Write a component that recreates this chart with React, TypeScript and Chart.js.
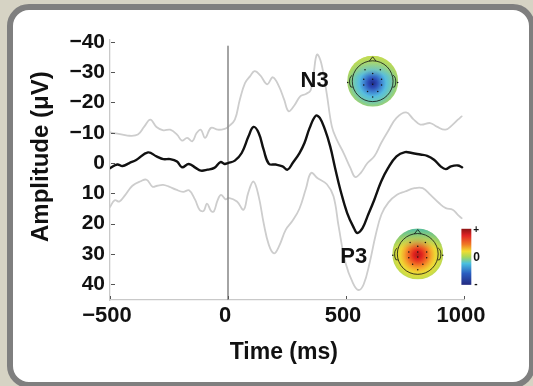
import React, { useEffect, useRef } from 'react';
import { Chart, registerables } from 'chart.js';

Chart.register(...registerables);

// ---- data (time in ms, amplitude in µV) ----
const meanTime = [-500,-469,-447,-418,-389,-339,-303,-274,-245,-216,-195,-166,-137,-115,-87,-58,-32,-14,0,29,58,87,108,130,151,173,202,231,252,274,303,324,346,372,389,411,433,454,476,505,534,548,570,591,620,649,678,714,750,779,815,844,873,901,923,945,974,992];
const meanAmp = [1.7,0.5,1,0,-1,-3.5,-2.2,-1.3,-1.3,-0.5,1.4,0.3,1.6,2.5,2.2,1.6,-0.3,0.3,0,-0.8,-3.3,-8.8,-11.9,-9.9,-4.4,0.2,0.5,1.1,2.2,0,-3.3,-6.6,-11.6,-15.6,-14.9,-11,-5.5,1.7,8.8,16.5,21.5,23.1,21.5,17.6,12.1,6.1,1.7,-2.2,-3.6,-3.3,-2.8,-2.4,-1.1,1.1,2,1.1,0.8,1.4];

const upperTime = [-500,-469,-447,-418,-382,-355,-329,-303,-274,-245,-216,-195,-173,-151,-133,-115,-97,-72,-43,-14,3,29,50,72,94,113,137,166,190,216,238,257,281,306,330,350,362,377,395,418,440,461,490,519,539,562,591,620,649,678,714,755,785,815,857,885,921,950,974,990];
const upperAmp = [-10.1,-9.7,-9.4,-9,-9.4,-12,-14.3,-11.9,-10.8,-11,-9.4,-7.4,-8.3,-7.2,-9.9,-11,-8.3,-11.6,-11,-11.3,-12.1,-14.3,-20.9,-26.4,-28.7,-30.3,-28.9,-26,-28.3,-25.3,-20.9,-17.1,-19,-22,-22.8,-24,-29,-35.8,-33,-23.1,-12.1,-7.7,-3.3,1.7,4.6,3.3,0,-2.2,-6.6,-10.5,-14.9,-16.7,-14.5,-12.7,-13.2,-12,-11,-12.5,-14.3,-15.4];

const lowerTime = [-500,-480,-460,-435,-405,-370,-345,-320,-300,-275,-250,-220,-190,-165,-140,-120,-103,-89,-72,-60,-45,-30,-10,3,38,66,85,108,130,151,173,195,216,245,274,303,330,352,380,419,447,469,498,530,553,575,600,625,650,680,716,750,790,825,858,894,923,952,974,990];
const lowerAmp = [14.5,12.3,12.7,10.5,7.5,6,5.5,7.8,7.5,7.2,7.8,8.8,9.5,9,12,15.5,15.8,13.4,15.8,16,12.5,10.5,12,11.5,12.7,15.4,10,6.1,11,19.8,27,29.8,27.5,22,19,15,8.5,3.3,5,7,11,21,33,39.7,41.9,40,33,24,17,13,10.5,9.4,8.3,8.3,10.5,13.2,14.9,15.4,17.1,18.2];

const onsetTime = [0, 0];
const onsetAmp = [-38.5, 45.2];

const xTicks = [-500, 0, 500, 1000];
const yTicks = [-40, -30, -20, -10, 0, 10, 20, 30, 40];

const peakLabels = ['N3', 'P3'];
const colorbarLabels = ['+', '0', '-'];

// ---- annotation placement (data units) ----
const PLACE = {
  n3Label: { x: 367, y: -27 },
  p3Label: { x: 533, y: 31 },
  n3Map: { x: 613, y: -27 },
  p3Map: { x: 804, y: 30 },
  colorbar: { x0: 989, x1: 1031, y0: 21.7, y1: 40.2 },
};

const FONT = "'Liberation Sans', Arial, Helvetica, sans-serif";

const pts = (xs: number[], ys: number[]) => xs.map((x, i) => ({ x, y: ys[i] }));
const fmt = (v: number) => (v < 0 ? '\u2212' + Math.abs(v) : String(v));

function drawHead(ctx: CanvasRenderingContext2D, cx: number, cy: number, R: number, kind: 'neg' | 'pos') {
  ctx.save();
  ctx.beginPath();
  ctx.arc(cx, cy, R, 0, Math.PI * 2);
  ctx.clip();
  const coreY = cy + (kind === 'neg' ? 2 : 1);
  const g = ctx.createRadialGradient(cx, coreY, 0, cx, coreY, R * 1.1);
  if (kind === 'neg') {
    g.addColorStop(0, '#1f2a88');
    g.addColorStop(0.16, '#2c4cb6');
    g.addColorStop(0.32, '#3f86d2');
    g.addColorStop(0.48, '#56bde0');
    g.addColorStop(0.64, '#6cc8bb');
    g.addColorStop(0.82, '#94d07c');
    g.addColorStop(1, '#bcd84e');
  } else {
    g.addColorStop(0, '#b41a1a');
    g.addColorStop(0.15, '#e2241e');
    g.addColorStop(0.32, '#f06424');
    g.addColorStop(0.48, '#f5a82c');
    g.addColorStop(0.62, '#f0d634');
    g.addColorStop(0.8, '#d2de44');
    g.addColorStop(1, '#a6d262');
  }
  ctx.fillStyle = g;
  ctx.fillRect(cx - R, cy - R, 2 * R, 2 * R);
  const lg = ctx.createLinearGradient(0, cy - R, 0, cy - R * 0.2);
  if (kind === 'neg') {
    lg.addColorStop(0, 'rgba(200,222,80,0.75)');
    lg.addColorStop(1, 'rgba(200,222,80,0)');
  } else {
    lg.addColorStop(0, 'rgba(70,185,175,0.9)');
    lg.addColorStop(1, 'rgba(120,200,120,0)');
  }
  ctx.fillStyle = lg;
  ctx.fillRect(cx - R, cy - R, 2 * R, 2 * R);
  ctx.restore();

  // head outline
  const r = R * 0.8;
  ctx.save();
  ctx.strokeStyle = '#111';
  ctx.lineWidth = 0.8;
  ctx.beginPath();
  ctx.arc(cx, cy, r, 0, Math.PI * 2);
  ctx.stroke();
  ctx.beginPath();
  ctx.moveTo(cx - 3.5, cy - r + 0.5);
  ctx.lineTo(cx, cy - r - 4);
  ctx.lineTo(cx + 3.5, cy - r + 0.5);
  ctx.stroke();
  for (const s of [-1, 1]) {
    ctx.beginPath();
    ctx.moveTo(cx + s * r, cy - 6);
    ctx.quadraticCurveTo(cx + s * (r + 3.5), cy - 4, cx + s * (r + 2.5), cy + 3);
    ctx.quadraticCurveTo(cx + s * (r + 2), cy + 7, cx + s * (r - 0.5), cy + 6);
    ctx.stroke();
  }
  const dots = [[-0.3,-0.45],[0.3,-0.45],[0,-0.3],[-0.35,-0.08],[0,-0.08],[0.35,-0.08],[-0.35,0.15],[0,0.12],[0.35,0.15],[-0.2,0.4],[0.2,0.4],[0,0.62],[-0.98,0.05],[0.98,0.05]];
  ctx.fillStyle = '#111';
  for (const [dx, dy] of dots) {
    ctx.beginPath();
    ctx.arc(cx + dx * R, cy + dy * R, 0.75, 0, Math.PI * 2);
    ctx.fill();
  }
  ctx.restore();
}

const decorPlugin = {
  id: 'decor',
  afterDatasetsDraw(chart: any) {
    const { ctx, chartArea } = chart;
    const xs = chart.scales.x;
    const ys = chart.scales.y;
    const px = (v: number) => xs.getPixelForValue(v);
    const py = (v: number) => ys.getPixelForValue(v);

    ctx.save();
    // inward tick marks
    ctx.strokeStyle = '#555';
    ctx.lineWidth = 1;
    for (const t of yTicks) {
      const y = Math.round(py(t)) + 0.5;
      ctx.beginPath();
      ctx.moveTo(chartArea.left + 1, y);
      ctx.lineTo(chartArea.left + 5, y);
      ctx.stroke();
    }
    for (const t of xTicks) {
      const x = Math.round(px(t)) + 0.5;
      ctx.beginPath();
      ctx.moveTo(x, chartArea.bottom - 1);
      ctx.lineTo(x, chartArea.bottom - 4);
      ctx.stroke();
    }

    // topographic maps
    drawHead(ctx, px(PLACE.n3Map.x), py(PLACE.n3Map.y), 25.5, 'neg');
    drawHead(ctx, px(PLACE.p3Map.x), py(PLACE.p3Map.y), 25.5, 'pos');

    // peak labels
    ctx.fillStyle = '#111';
    ctx.font = `bold 22px ${FONT}`;
    ctx.textAlign = 'center';
    ctx.textBaseline = 'middle';
    ctx.fillText(peakLabels[0], px(PLACE.n3Label.x), py(PLACE.n3Label.y));
    ctx.fillText(peakLabels[1], px(PLACE.p3Label.x), py(PLACE.p3Label.y));

    // colour bar
    const cb = PLACE.colorbar;
    const x0 = px(cb.x0), x1 = px(cb.x1), y0 = py(cb.y0), y1 = py(cb.y1);
    const lg = ctx.createLinearGradient(0, y0, 0, y1);
    lg.addColorStop(0, '#8e1414');
    lg.addColorStop(0.12, '#e02424');
    lg.addColorStop(0.28, '#f07a24');
    lg.addColorStop(0.4, '#f2dc30');
    lg.addColorStop(0.5, '#a8d858');
    lg.addColorStop(0.62, '#48bfe0');
    lg.addColorStop(0.8, '#2a5cc0');
    lg.addColorStop(1, '#232a80');
    ctx.fillStyle = lg;
    ctx.fillRect(x0, y0, x1 - x0, y1 - y0);
    ctx.fillStyle = '#111';
    ctx.textAlign = 'left';
    ctx.font = `bold 10px ${FONT}`;
    ctx.fillText(colorbarLabels[0], x1 + 2, y0 + 1);
    ctx.font = `bold 12px ${FONT}`;
    ctx.fillText(colorbarLabels[1], x1 + 2, (y0 + y1) / 2 + 1);
    ctx.font = `bold 10px ${FONT}`;
    ctx.fillText(colorbarLabels[2], x1 + 3, y1 - 1);
    ctx.restore();
  },
};

export default function App() {
  const ref = useRef<HTMLCanvasElement | null>(null);

  useEffect(() => {
    if (!ref.current) return;
    const chart = new Chart(ref.current, {
      type: 'line',
      data: {
        datasets: [
          { data: pts(meanTime, meanAmp), borderColor: '#111111', borderWidth: 2.4, order: 0 },
          { data: pts(onsetTime, onsetAmp), borderColor: '#8e8e8e', borderWidth: 1.6, tension: 0, order: 1 },
          { data: pts(upperTime, upperAmp), borderColor: '#cdcdcd', borderWidth: 1.8, order: 2 },
          { data: pts(lowerTime, lowerAmp), borderColor: '#cdcdcd', borderWidth: 1.8, order: 2 },
        ],
      },
      options: {
        animation: false,
        responsive: false,
        events: [],
        elements: {
          point: { radius: 0 },
          line: { tension: 0.4, fill: false, borderCapStyle: 'round', borderJoinStyle: 'round' },
        },
        plugins: { legend: { display: false }, tooltip: { enabled: false } },
        layout: { padding: { left: 0, top: 40, right: 69, bottom: 0 } },
        scales: {
          x: {
            type: 'linear',
            min: -500,
            max: 1000,
            afterBuildTicks: (s: any) => { s.ticks = xTicks.map((v) => ({ value: v })); },
            afterFit: (s: any) => { s.height = 86; },
            grid: { display: false, drawTicks: false },
            border: { display: true, color: '#c9c9c9', width: 1.3 },
            ticks: {
              color: '#111',
              font: { family: FONT, size: 22, weight: 'bold' },
              padding: 3,
              labelOffset: -3,
              maxRotation: 0,
              autoSkip: false,
              callback: (v: any) => fmt(Number(v)),
            },
            title: {
              display: true,
              text: 'Time (ms) ',
              color: '#111',
              font: { family: FONT, size: 23, weight: 'bold' },
              padding: { top: 0, bottom: 20 },
            },
          },
          y: {
            type: 'linear',
            reverse: true,
            min: -40.6,
            max: 45.2,
            afterBuildTicks: (s: any) => { s.ticks = yTicks.map((v) => ({ value: v })); },
            afterFit: (s: any) => { s.width = 110; },
            grid: { display: false, drawTicks: false },
            border: { display: true, color: '#c9c9c9', width: 1.3 },
            ticks: {
              color: '#111',
              font: { family: FONT, size: 21, weight: 'bold' },
              padding: 5,
              autoSkip: false,
              callback: (v: any) => fmt(Number(v)),
            },
            title: {
              display: true,
              text: '    Amplitude (\u03bcV)',
              color: '#111',
              font: { family: FONT, size: 24, weight: 'bold' },
              padding: { top: 27, bottom: 0 },
            },
          },
        },
      } as any,
      plugins: [decorPlugin],
    });
    return () => chart.destroy();
  }, []);

  return (
    <div style={{ position: 'fixed', left: 0, top: 0, width: 533, height: 386, background: '#d6d3c4', overflow: 'hidden' }}>
      <div
        style={{
          position: 'absolute',
          left: 7,
          top: 4,
          width: 528,
          height: 384,
          boxSizing: 'border-box',
          border: '6px solid #7f7f7f',
          borderRadius: 22,
          background: '#ffffff',
        }}
      />
      <canvas ref={ref} width={533} height={386} style={{ position: 'absolute', left: 0, top: 0, width: 533, height: 386 }} />
    </div>
  );
}
